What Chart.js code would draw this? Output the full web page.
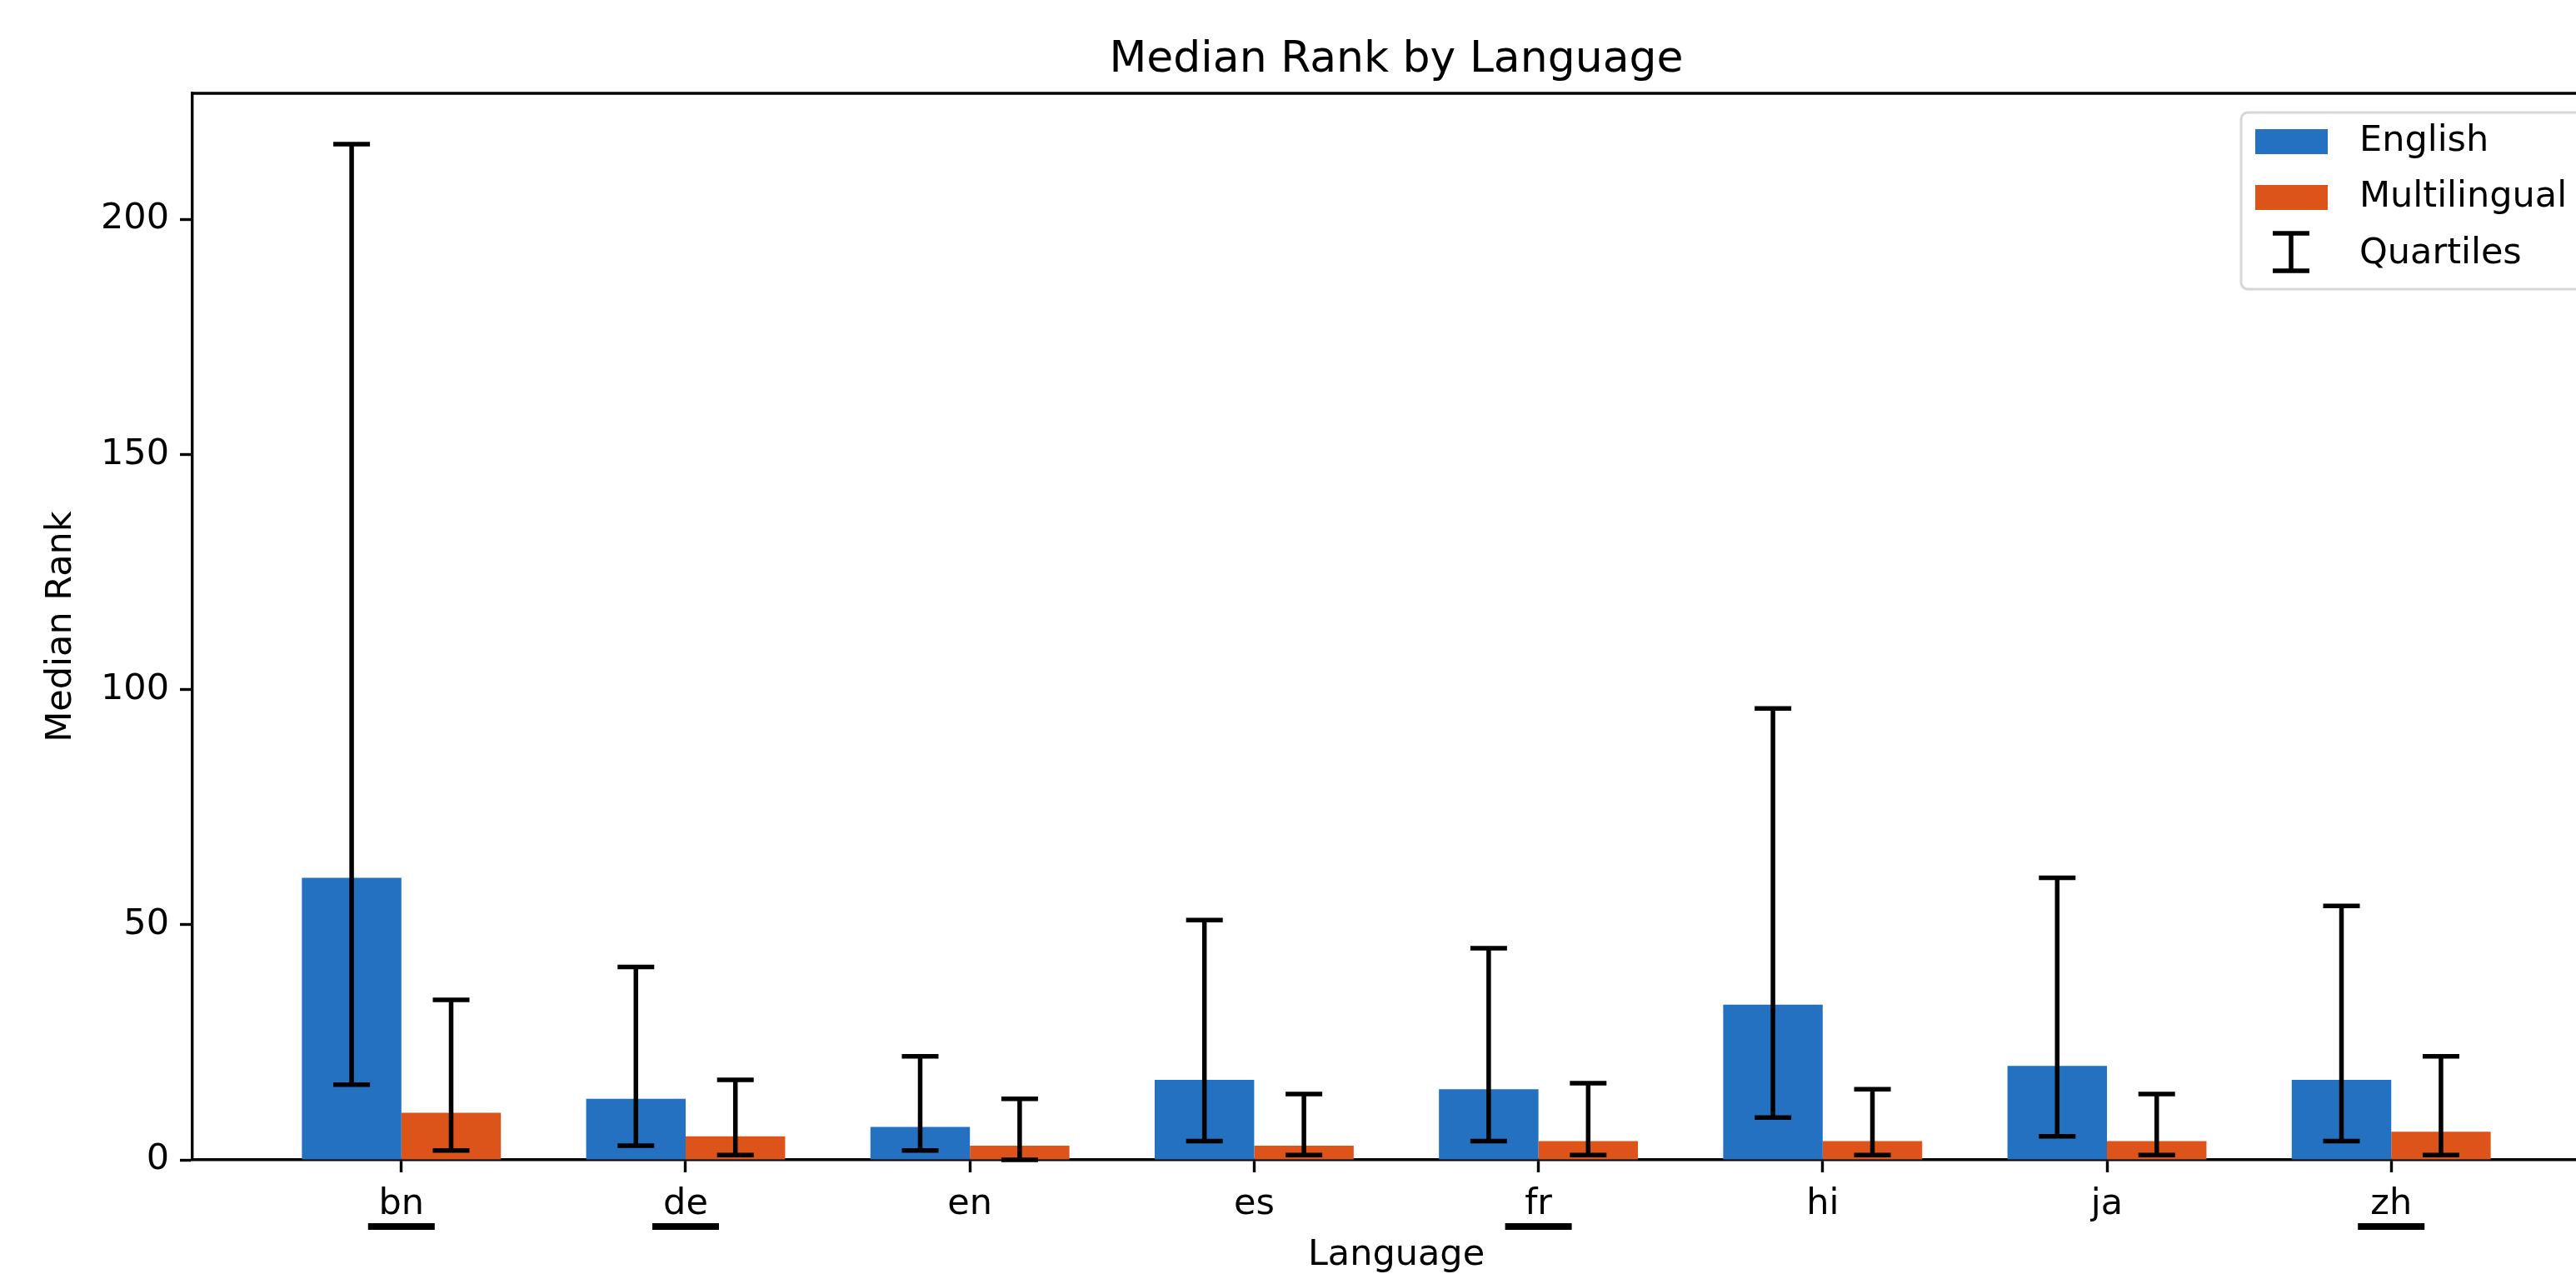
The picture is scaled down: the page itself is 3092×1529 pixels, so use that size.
<!DOCTYPE html>
<html>
<head>
<meta charset="utf-8">
<script src="https://cdn.jsdelivr.net/npm/chart.js@4.4.1/dist/chart.umd.min.js"></script>
<style>
  html, body { margin: 0; padding: 0; background: #fff; overflow: hidden; }
  #wrap { width: 3092px; height: 1529px; }
</style>
</head>
<body>
<div id="wrap"><canvas id="rankChart"></canvas></div>
<script>
const languages = ['bn', 'de', 'en', 'es', 'fr', 'hi', 'ja', 'zh'];
const underlined = ['bn', 'de', 'fr', 'zh'];

// medians
const englishMedian = [60, 13, 7, 17, 15, 33, 20, 17];
const multiMedian = [10, 5, 3, 3, 4, 4, 4, 6];

// quartiles (q1 / q3)
const englishQ1 = [16, 3, 2, 4, 4, 9, 5, 4];
const englishQ3 = [216, 41, 22, 51, 45, 96, 60, 54];
const multiQ1 = [2, 1, 0, 1, 1, 1, 1, 1];
const multiQ3 = [34, 17, 13, 14, 16.3, 15, 14, 22];

const yTicks = [0, 50, 100, 150, 200];

const BLUE = '#2371c0';
const ORANGE = '#dc5419';
const FONT = 'DejaVu Sans';

// original figure is cropped on the right: full axes span -0.735..7.735,
// the visible part stops around 7.65
const X_MIN = -0.735, X_MAX_VISIBLE = 7.65, X_CENTER = 3.5;

const quartiles = [
    { q1: englishQ1, q3: englishQ3 },
    { q1: multiQ1, q3: multiQ3 }
];

// draws the quartile whiskers on top of the bars
const errorBars = {
    id: 'errorBars',
    afterDatasetsDraw(chart) {
        const ctx = chart.ctx;
        const y = chart.scales.y;
        ctx.save();
        ctx.strokeStyle = '#000';
        ctx.lineWidth = 5.5;
        chart.data.datasets.forEach((ds, di) => {
            const meta = chart.getDatasetMeta(di);
            meta.data.forEach((bar, i) => {
                const top = y.getPixelForValue(quartiles[di].q3[i]);
                const bot = y.getPixelForValue(quartiles[di].q1[i]);
                ctx.beginPath();
                ctx.moveTo(bar.x, top); ctx.lineTo(bar.x, bot);
                ctx.moveTo(bar.x - 22, top); ctx.lineTo(bar.x + 22, top);
                ctx.moveTo(bar.x - 22, bot); ctx.lineTo(bar.x + 22, bot);
                ctx.stroke();
            });
        });
        ctx.restore();
    }
};

// titles, top spine, label underlines and the legend box
const decorations = {
    id: 'decorations',
    afterDraw(chart) {
        const ctx = chart.ctx;
        const a = chart.chartArea;
        const x = chart.scales.x;
        const cx = x.getPixelForValue(X_CENTER);
        ctx.save();

        ctx.fillStyle = '#000';
        ctx.textAlign = 'center';
        ctx.textBaseline = 'alphabetic';
        ctx.font = '52px "' + FONT + '"';
        ctx.fillText('Median Rank by Language', cx, 86);
        ctx.font = '43px "' + FONT + '"';
        ctx.fillText('Language', cx, 1518);

        ctx.strokeStyle = '#000';
        ctx.lineWidth = 3.4;
        ctx.beginPath();
        ctx.moveTo(a.left - 1.7, a.top);
        ctx.lineTo(a.right + 2, a.top);
        ctx.stroke();

        underlined.forEach(lang => {
            const px = x.getPixelForValue(languages.indexOf(lang));
            ctx.fillRect(px - 40, 1468, 80, 8);
        });

        // legend
        const lx = a.right - 402, ly = a.top + 23;
        ctx.beginPath();
        ctx.roundRect(lx, ly, 440, 212, 8);
        ctx.fillStyle = 'rgba(255,255,255,0.8)';
        ctx.fill();
        ctx.strokeStyle = '#d6d6d6';
        ctx.lineWidth = 3;
        ctx.stroke();

        ctx.fillStyle = BLUE;
        ctx.fillRect(lx + 17, ly + 20, 87, 30);
        ctx.fillStyle = ORANGE;
        ctx.fillRect(lx + 17, ly + 87, 87, 30);

        const ix = lx + 60;
        ctx.strokeStyle = '#000';
        ctx.lineWidth = 5.5;
        ctx.beginPath();
        ctx.moveTo(ix, ly + 145); ctx.lineTo(ix, ly + 190);
        ctx.moveTo(ix - 22, ly + 145); ctx.lineTo(ix + 22, ly + 145);
        ctx.moveTo(ix - 22, ly + 190); ctx.lineTo(ix + 22, ly + 190);
        ctx.stroke();

        ctx.fillStyle = '#000';
        ctx.font = '43px "' + FONT + '"';
        ctx.textBaseline = 'middle';
        ctx.textAlign = 'left';
        ctx.fillText('English', lx + 142, ly + 35);
        ctx.fillText('Multilingual', lx + 142, ly + 102);
        ctx.fillText('Quartiles', lx + 142, ly + 170);
        ctx.restore();
    }
};

new Chart(document.getElementById('rankChart').getContext('2d'), {
    type: 'bar',
    data: {
        datasets: [
            { label: 'English', backgroundColor: BLUE, data: englishMedian.map((v, i) => ({ x: i, y: v })) },
            { label: 'Multilingual', backgroundColor: ORANGE, data: multiMedian.map((v, i) => ({ x: i, y: v })) }
        ]
    },
    options: {
        responsive: true,
        maintainAspectRatio: false,
        animation: false,
        devicePixelRatio: 1,
        categoryPercentage: 0.7,
        barPercentage: 1.0,
        layout: { padding: { left: 0, right: 0, top: 112, bottom: 0 } },
        plugins: {
            legend: { display: false },
            tooltip: { enabled: false },
            title: { display: false }
        },
        scales: {
            x: {
                type: 'linear',
                min: X_MIN,
                max: X_MAX_VISIBLE,
                offset: false,
                afterBuildTicks: s => { s.ticks = languages.map((_, i) => ({ value: i })); },
                afterFit: s => { s.height = 137; },
                grid: { display: true, offset: false, drawOnChartArea: false, drawTicks: true, tickLength: 15, tickColor: '#000', tickWidth: 3.4 },
                border: { display: true, color: '#000', width: 3.4 },
                ticks: {
                    color: '#000',
                    padding: 13,
                    maxRotation: 0,
                    autoSkip: false,
                    font: { family: FONT, size: 43 },
                    callback: v => languages[v]
                },
                title: { display: false }
            },
            y: {
                min: 0,
                max: 226.8,
                afterBuildTicks: s => { s.ticks = yTicks.map(v => ({ value: v })); },
                afterFit: s => { s.width = 231; },
                grid: { display: true, drawOnChartArea: false, drawTicks: true, tickLength: 15, tickColor: '#000', tickWidth: 3.4 },
                border: { display: true, color: '#000', width: 3.4 },
                ticks: {
                    color: '#000',
                    padding: 13,
                    font: { family: FONT, size: 43 }
                },
                title: {
                    display: true,
                    text: 'Median Rank',
                    color: '#000',
                    font: { family: FONT, size: 43, lineHeight: 1.2 },
                    padding: { top: 48, bottom: 0 }
                }
            }
        }
    },
    plugins: [errorBars, decorations]
});
</script>
</body>
</html>
